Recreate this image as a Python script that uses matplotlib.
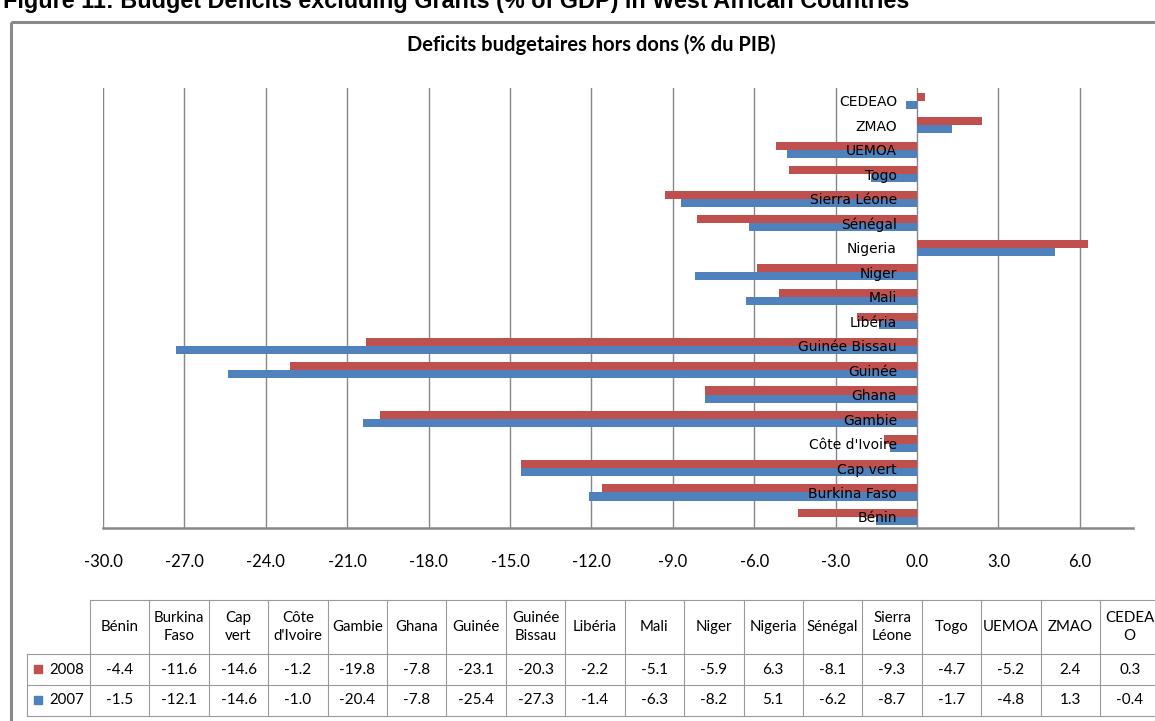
import numpy as np
import matplotlib
matplotlib.use("Agg")
import matplotlib.pyplot as plt
from matplotlib.patches import Rectangle

# Budget deficits excluding grants (% of GDP)
CATEGORIES = ["Bénin", "Burkina Faso", "Cap vert", "Côte d'Ivoire", "Gambie", "Ghana",
              "Guinée", "Guinée Bissau", "Libéria", "Mali", "Niger", "Nigeria",
              "Sénégal", "Sierra Léone", "Togo", "UEMOA", "ZMAO", "CEDEAO"]
TABLE_HEADERS = ["Bénin", "Burkina\nFaso", "Cap\nvert", "Côte\nd'Ivoire", "Gambie", "Ghana",
                 "Guinée", "Guinée\nBissau", "Libéria", "Mali", "Niger", "Nigeria",
                 "Sénégal", "Sierra\nLéone", "Togo", "UEMOA", "ZMAO", "CEDEA\nO"]
DEF_2008 = [-4.4, -11.6, -14.6, -1.2, -19.8, -7.8, -23.1, -20.3, -2.2,
            -5.1, -5.9, 6.3, -8.1, -9.3, -4.7, -5.2, 2.4, 0.3]
DEF_2007 = [-1.5, -12.1, -14.6, -1.0, -20.4, -7.8, -25.4, -27.3, -1.4,
            -6.3, -8.2, 5.1, -6.2, -8.7, -1.7, -4.8, 1.3, -0.4]
SERIES = ["2008", "2007"]
XTICKS = [-30, -27, -24, -21, -18, -15, -12, -9, -6, -3, 0, 3, 6]

RED = "#C0504D"
BLUE = "#4F81BD"
GRID = "#888888"
TABLE_LINE = "#9a9a9a"
FONT = "Lato"

W, H = 1155, 721
fig = plt.figure(figsize=(W / 100, H / 100), dpi=100)

# full-figure overlay in pixel units for frame, titles and data table
ov = fig.add_axes([0, 0, 1, 1], zorder=-1)
ov.set_xlim(0, W)
ov.set_ylim(H, 0)
ov.axis("off")

ov.add_patch(Rectangle((11, 22), 1300, 900, fill=False, ec="#8a8a8a", lw=2.2))
ov.text(3, 8, "Figure 11: Budget Deficits excluding Grants (% of GDP) in West African Countries",
        fontsize=16.8, fontweight="bold", family="Liberation Sans", va="baseline", ha="left")
ov.text(591, 45, "Deficits budgetaires hors dons (% du PIB)", fontsize=14.5,
        fontweight="bold", family=FONT, ha="center", va="center")

# chart
ax = fig.add_axes([103 / W, 1 - 528 / H, (1133 - 103) / W, (528 - 88) / H])
y = np.arange(len(CATEGORIES))
h = 0.33
ax.barh(y + h / 2, DEF_2008, height=h, color=RED, zorder=2)
ax.barh(y - h / 2, DEF_2007, height=h, color=BLUE, zorder=2)
ax.set_xlim(-30, 7.96)
ax.set_ylim(-0.45, 17.52)

ax.set_xticks(XTICKS)
ax.set_xticklabels([f"{v:.1f}" for v in XTICKS], fontsize=12, family=FONT)
ax.tick_params(axis="x", length=0, pad=19)
ax.xaxis.grid(True, color=GRID, lw=1)
ax.set_axisbelow(True)

ax.set_yticks(y)
ax.set_yticklabels(CATEGORIES, fontsize=11.2, family=FONT)
ax.tick_params(axis="y", length=0, pad=14.5)
ax.yaxis.set_zorder(3)

for side in ("top", "right"):
    ax.spines[side].set_visible(False)
ax.spines["left"].set_position(("data", 0))
ax.spines["left"].set_visible(False)
ax.spines["bottom"].set_color(GRID)
ax.spines["bottom"].set_linewidth(1.8)

# data table under the chart
x0, cw = 90, 1010 / 17
y_head, y_r1, y_r2, y_end = 600, 654, 685, 716
x_end = x0 + cw * len(CATEGORIES)
ov.plot([x0, x_end], [y_head, y_head], color=TABLE_LINE, lw=0.8)
for yy in (y_r1, y_r2, y_end):
    ov.plot([27, x_end], [yy, yy], color=TABLE_LINE, lw=0.8)
ov.plot([27, 27], [y_r1, y_end], color=TABLE_LINE, lw=0.8)
for i in range(len(CATEGORIES) + 1):
    xx = x0 + i * cw
    ov.plot([xx, xx], [y_head, y_end], color=TABLE_LINE, lw=0.8)

for i, name in enumerate(TABLE_HEADERS):
    cx = x0 + (i + 0.5) * cw
    ov.text(cx, (y_head + y_r1) / 2, name, ha="center", va="center",
            fontsize=10.8, family=FONT, linespacing=1.3)
    ov.text(cx, (y_r1 + y_r2) / 2, f"{DEF_2008[i]:.1f}", ha="center", va="center",
            fontsize=11, family=FONT)
    ov.text(cx, (y_r2 + y_end) / 2, f"{DEF_2007[i]:.1f}", ha="center", va="center",
            fontsize=11, family=FONT)

for (top, bot), label, col in zip(((y_r1, y_r2), (y_r2, y_end)), SERIES, (RED, BLUE)):
    cy = (top + bot) / 2
    ov.add_patch(Rectangle((34, cy - 4.5), 8, 8, color=col))
    ov.text(49, cy, label, ha="left", va="center", fontsize=10.8, family=FONT)

fig.savefig("out.png", dpi=100)
